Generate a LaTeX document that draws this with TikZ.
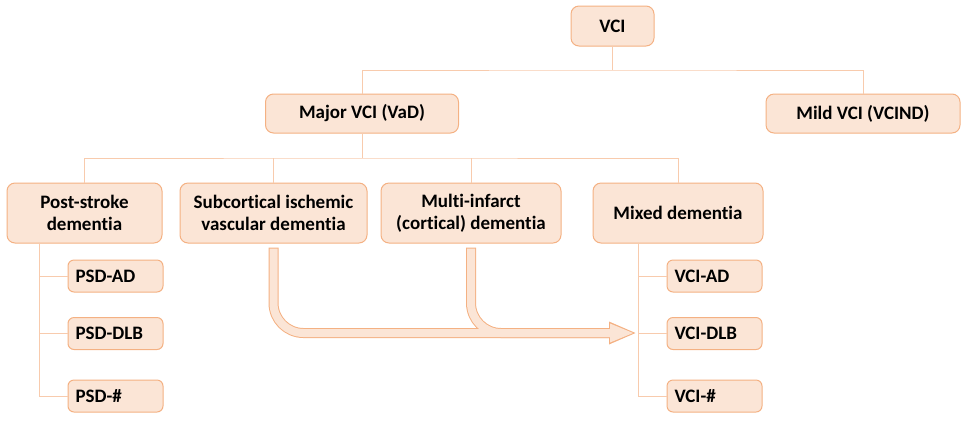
\documentclass[tikz,border=0pt]{standalone}
\usepackage{fontspec}
\setmainfont{Carlito}[RawFeature={-liga;-clig}]
\usetikzlibrary{positioning}
\definecolor{boxfill}{HTML}{FBE5D6}
\definecolor{boxline}{HTML}{F4B183}
\definecolor{linkline}{HTML}{F8CBAD}
\tikzset{
    font=\bfseries\fontsize{19}{22}\selectfont,
    every node/.style={
        align=center,
    },
    box/.style={            % default style for all boxes
        draw=boxline,
        fill=boxfill,
        line width=1pt,
        rounded corners=8pt,
        inner sep=0pt,
    },
    leafbox/.style={        % small boxes of the subtypes
        box,
        minimum width=95pt,
        minimum height=32pt,
        rounded corners=6pt,
    },
    link/.style={           % thin tree lines
        draw=linkline,
        line width=1pt,
    },
    bandout/.style={        % outline of the thick arrow
        draw=boxline,
        line width=10pt,
        rounded corners=30pt,
    },
    bandin/.style={         % inside of the thick arrow
        draw=boxfill,
        line width=8pt,
        rounded corners=30pt,
        shorten <=1pt,
    },
}

\begin{document}
\begin{tikzpicture}[x=1pt, y=-1pt]
    \useasboundingbox (0,0) rectangle (965,424);
    % levels of the tree
    \node[box, minimum width=83pt, minimum height=40pt] (vci) at (612.5,26) {VCI};
    \node[box, minimum width=193pt, minimum height=39pt] (major) at (362,113.5) {Major VCI (VaD)};
    \node[box, minimum width=194pt, minimum height=39pt] (mild) at (863,113.5) {Mild VCI (VCIND)};
    \node[box, minimum width=155pt, minimum height=60pt] (poststroke) at (84.5,213) {Post-stroke\\dementia};
    \node[box, minimum width=187pt, minimum height=60pt] (subcort) at (273.5,213) {Subcortical ischemic\\vascular dementia};
    \node[box, minimum width=180pt, minimum height=60pt] (multi) at (471,213) {Multi-infarct\\(cortical) dementia};
    \node[box, minimum width=170pt, minimum height=60pt] (mixed) at (678,213) {Mixed dementia};
    \node[leafbox, text width=80pt, align=left] (psdad) at (115.5,276) {PSD-AD};
    \node[leafbox, text width=80pt, align=left] (psddlb) at (115.5,333.5) {PSD-DLB};
    \node[leafbox, text width=80pt, align=left] (psdhash) at (115.5,396) {PSD-\#};
    \node[leafbox, text width=80pt, align=left] (vciad) at (714.5,276) {VCI-AD};
    \node[leafbox, text width=80pt, align=left] (vcidlb) at (714.5,333.5) {VCI-DLB};
    \node[leafbox, text width=80pt, align=left] (vcihash) at (714.5,396) {VCI-\#};

    % tree lines
    \coordinate (top) at (612.5,70);
    \coordinate (mid) at (360,158);
    \coordinate (pspine) at (39,0);
    \coordinate (vspine) at (638,0);
    \draw[link] (vci) -- (top);
    \draw[link] (major.north) |- (top) -| (mild.north);
    \draw[link] (major) -- (major.south |- mid);
    \draw[link] (poststroke.north) |- (mid) -| (mixed.north);
    \draw[link] (subcort.north) -- (subcort.north |- mid);
    \draw[link] (multi.north) -- (multi.north |- mid);
    \draw[link] (poststroke.south -| pspine) |- (psdhash.west);
    \draw[link] (mixed.south -| vspine) |- (vcihash.west);
    \foreach \leaf in {psdad, psddlb}
        \draw[link] (\leaf.west -| pspine) -- (\leaf.west);
    \foreach \leaf in {vciad, vcidlb}
        \draw[link] (\leaf.west -| vspine) -- (\leaf.west);

    % thick arrow into mixed dementia
    \coordinate (tip) at (634,333);
    \draw[bandout] ([yshift=-4pt]subcort.south) |- ([xshift=-23pt]tip);
    \draw[bandout] ([yshift=-4pt]multi.south) |- ([xshift=-23pt]tip);
    \fill[boxline] ([xshift=-25pt, yshift=-11.5pt]tip) -- ([xshift=1.5pt]tip) -- ([xshift=-25pt, yshift=11.5pt]tip) -- cycle;
    \draw[bandin] ([yshift=-4pt]subcort.south) |- ([xshift=-21pt]tip);
    \draw[bandin] ([yshift=-4pt]multi.south) |- ([xshift=-21pt]tip);
    \fill[boxfill] ([xshift=-24pt, yshift=-9.5pt]tip) -- ([xshift=-1pt]tip) -- ([xshift=-24pt, yshift=9.5pt]tip) -- cycle;
\end{tikzpicture}
\end{document}
